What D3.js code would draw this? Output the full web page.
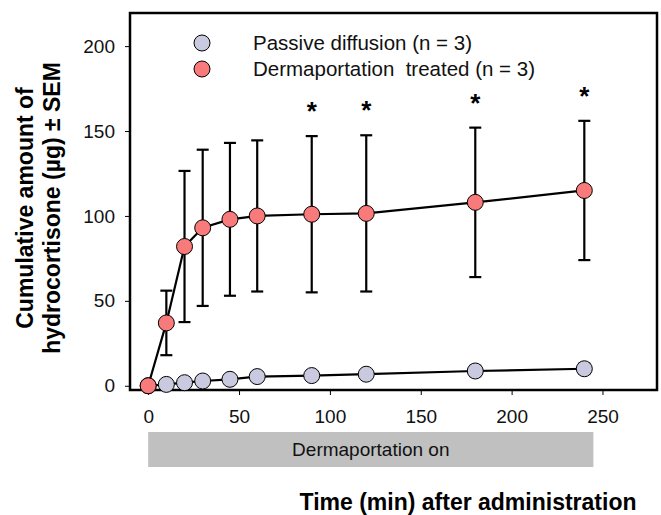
<!DOCTYPE html>
<html>
  <head>
    <meta charset="utf-8">
    <script src="https://d3js.org/d3.v7.min.js"></script>
    <style>
      body { margin: 0; background: #fff; }
      svg { display: block; font-family: "Liberation Sans", Arial, sans-serif; }
    </style>
  </head>
  <body>
    <script>
      // values
      const times = [0, 10, 20, 30, 45, 60, 90, 120, 180, 240]
      const dermaMean = [0, 37, 82, 93, 98, 100, 101, 101.5, 108, 115]
      const dermaSem = [0, 19, 44.5, 46, 45, 44.5, 46, 46, 44, 41]
      const passiveMean = [0, 0.8, 1.8, 2.8, 3.8, 5.4, 6, 6.8, 8.7, 10]
      const passiveSem = [0, 0.5, 0.6, 0.8, 1, 1.2, 1.5, 1.8, 3, 3]
      const sigTimes = [90, 120, 180, 240]
      const xTicks = [0, 50, 100, 150, 200, 250]
      const yTicks = [0, 50, 100, 150, 200]
      const seriesNames = ["Passive diffusion (n = 3)", "Dermaportation  treated (n = 3)"]
      const seriesColors = ["#c9c9e0", "#f87a7a"]
      const barRange = [0, 245]

      const w = 661, h = 515
      const svg = d3.select("body").append("svg")
        .attr("width", w).attr("height", h)

      const x = d3.scaleLinear().domain([-10, 280]).range([130, 657])
      const y = d3.scaleLinear().domain([-2.5, 219.5]).range([390, 13])

      // frame
      svg.append("rect")
        .attr("x", x(-10)).attr("y", y(219.5))
        .attr("width", x(280) - x(-10)).attr("height", y(-2.5) - y(219.5))
        .attr("fill", "none").attr("stroke", "#000").attr("stroke-width", 2.5)

      // axes
      const xAxis = svg.append("g")
        .attr("transform", "translate(0," + y(-2.5) + ")")
        .call(d3.axisBottom(x).tickValues(xTicks).tickSize(5).tickPadding(15))
      const yAxis = svg.append("g")
        .attr("transform", "translate(" + x(-10) + ",0)")
        .call(d3.axisLeft(y).tickValues(yTicks).tickSize(5).tickPadding(10))
      ;[xAxis, yAxis].forEach(g => {
        g.select(".domain").remove()
        g.selectAll("text").attr("font-size", 19).attr("font-family", "Liberation Sans, Arial").attr("fill", "#111")
      })

      const line = d3.line().x(d => x(d[0])).y(d => y(d[1]))
      const passive = times.map((t, i) => [t, passiveMean[i], passiveSem[i]])
      const derma = times.map((t, i) => [t, dermaMean[i], dermaSem[i]])

      const drawErr = (data) => {
        const g = svg.append("g").attr("stroke", "#000").attr("stroke-width", 2.2)
        data.filter(d => d[2] > 0).forEach(d => {
          g.append("line").attr("x1", x(d[0])).attr("x2", x(d[0]))
            .attr("y1", y(d[1] - d[2])).attr("y2", y(d[1] + d[2]))
          ;[d[1] - d[2], d[1] + d[2]].forEach(v => {
            g.append("line").attr("x1", x(d[0]) - 6).attr("x2", x(d[0]) + 6)
              .attr("y1", y(v)).attr("y2", y(v))
          })
        })
      }

      // passive diffusion
      drawErr(passive)
      svg.append("path").datum(passive).attr("d", line)
        .attr("fill", "none").attr("stroke", "#000").attr("stroke-width", 2.2)
      svg.selectAll(".pdot").data(passive).enter().append("circle")
        .attr("class", "pdot")
        .attr("cx", d => x(d[0])).attr("cy", d => y(d[1])).attr("r", 8)
        .attr("fill", seriesColors[0]).attr("stroke", "#000").attr("stroke-width", 1)

      // dermaportation treated
      drawErr(derma)
      svg.append("path").datum(derma).attr("d", line)
        .attr("fill", "none").attr("stroke", "#000").attr("stroke-width", 2.2)
      svg.selectAll(".ddot").data(derma).enter().append("circle")
        .attr("class", "ddot")
        .attr("cx", d => x(d[0])).attr("cy", d => y(d[1])).attr("r", 8)
        .attr("fill", seriesColors[1]).attr("stroke", "#000").attr("stroke-width", 1)

      // significance stars
      svg.selectAll(".star").data(derma.filter(d => sigTimes.includes(d[0]))).enter()
        .append("text")
        .attr("transform", d => "translate(" + x(d[0]) + "," + (y(d[1] + d[2]) - 16) + ")")
        .attr("text-anchor", "middle")
        .attr("font-size", 26).attr("font-weight", "bold")
        .text("*")

      // legend
      const legend = svg.append("g")
      seriesNames.forEach((name, i) => {
        legend.append("circle").attr("cx", 202).attr("cy", 43 + i * 26).attr("r", 8)
          .attr("fill", seriesColors[i]).attr("stroke", "#000").attr("stroke-width", 1)
        legend.append("text").attr("x", 253).attr("y", 50 + i * 26)
          .attr("font-size", 20.5).attr("fill", "#111")
          .style("white-space", "pre")
          .text(name)
      })

      // dermaportation on bar
      svg.append("rect")
        .attr("x", x(barRange[0])).attr("width", x(barRange[1]) - x(barRange[0]))
        .attr("y", 432).attr("height", 35).attr("fill", "#c0c0c0")
      svg.append("text")
        .attr("x", (x(barRange[0]) + x(barRange[1])) / 2).attr("y", 456)
        .attr("text-anchor", "middle").attr("font-size", 19).attr("fill", "#111")
        .text("Dermaportation on")

      // axis titles
      svg.append("text")
        .attr("x", 468).attr("y", 510)
        .attr("text-anchor", "middle").attr("font-size", 23).attr("font-weight", "bold")
        .text("Time (min) after administration")

      const yt = svg.append("text")
        .attr("transform", "translate(33,208) rotate(-90)")
        .attr("text-anchor", "middle").attr("font-size", 23).attr("font-weight", "bold")
      yt.append("tspan").attr("x", 0).attr("y", 0).text("Cumulative amount of")
      yt.append("tspan").attr("x", 0).attr("y", 27).text("hydrocortisone (\u00b5g) \u00b1 SEM")
    </script>
  </body>
</html>
